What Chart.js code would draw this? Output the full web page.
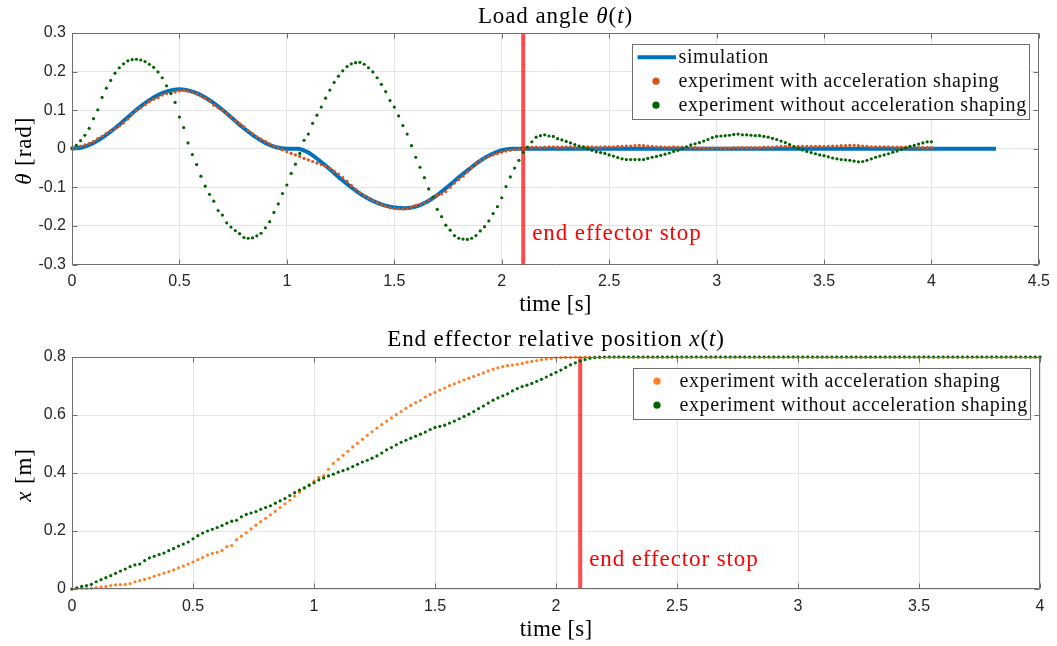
<!DOCTYPE html>
<html>
<head>
<meta charset="utf-8">
<script src="https://cdn.jsdelivr.net/npm/chart.js@4.4.1/dist/chart.umd.min.js"></script>
<style>
html,body{margin:0;padding:0;background:#fff;}
#wrap{position:relative;width:1057px;height:646px;overflow:hidden;}
canvas{position:absolute;left:0;}
#c1{top:0;}
#c2{top:323px;}
</style>
</head>
<body>
<div id="wrap">
<canvas id="c1" width="1057" height="323"></canvas>
<canvas id="c2" width="1057" height="323"></canvas>
</div>
<script>
// ---------------- DATA ----------------
const time = [
0,0.02,0.04,0.06,0.08,0.1,0.12,0.14,0.16,0.18,
0.2,0.22,0.24,0.26,0.28,0.3,0.32,0.34,0.36,0.38,
0.4,0.42,0.44,0.46,0.48,0.5,0.52,0.54,0.56,0.58,
0.6,0.62,0.64,0.66,0.68,0.7,0.72,0.74,0.76,0.78,
0.8,0.82,0.84,0.86,0.88,0.9,0.92,0.94,0.96,0.98,
1,1.02,1.04,1.06,1.08,1.1,1.12,1.14,1.16,1.18,
1.2,1.22,1.24,1.26,1.28,1.3,1.32,1.34,1.36,1.38,
1.4,1.42,1.44,1.46,1.48,1.5,1.52,1.54,1.56,1.58,
1.6,1.62,1.64,1.66,1.68,1.7,1.72,1.74,1.76,1.78,
1.8,1.82,1.84,1.86,1.88,1.9,1.92,1.94,1.96,1.98,
2,2.02,2.04,2.06,2.08,2.1,2.12,2.14,2.16,2.18,
2.2,2.22,2.24,2.26,2.28,2.3,2.32,2.34,2.36,2.38,
2.4,2.42,2.44,2.46,2.48,2.5,2.52,2.54,2.56,2.58,
2.6,2.62,2.64,2.66,2.68,2.7,2.72,2.74,2.76,2.78,
2.8,2.82,2.84,2.86,2.88,2.9,2.92,2.94,2.96,2.98,
3,3.02,3.04,3.06,3.08,3.1,3.12,3.14,3.16,3.18,
3.2,3.22,3.24,3.26,3.28,3.3,3.32,3.34,3.36,3.38,
3.4,3.42,3.44,3.46,3.48,3.5,3.52,3.54,3.56,3.58,
3.6,3.62,3.64,3.66,3.68,3.7,3.72,3.74,3.76,3.78,
3.8,3.82,3.84,3.86,3.88,3.9,3.92,3.94,3.96,3.98,
4
];

// load angle, experiment with acceleration shaping [rad]
const thetaWith = [
0.003,0.005,0.007,0.010,0.014,0.019,0.026,0.032,0.040,0.047,
0.053,0.059,0.067,0.077,0.089,0.099,0.106,0.114,0.122,0.128,
0.132,0.139,0.143,0.145,0.147,0.150,0.151,0.149,0.146,0.142,
0.137,0.131,0.123,0.113,0.106,0.100,0.091,0.082,0.072,0.065,
0.057,0.047,0.039,0.031,0.025,0.019,0.013,0.007,0.002,-0.003,
-0.008,-0.012,-0.016,-0.020,-0.025,-0.029,-0.033,-0.037,-0.041,-0.045,
-0.051,-0.058,-0.066,-0.075,-0.084,-0.095,-0.105,-0.114,-0.122,-0.128,
-0.134,-0.139,-0.145,-0.149,-0.153,-0.155,-0.156,-0.156,-0.155,-0.151,
-0.147,-0.144,-0.140,-0.133,-0.127,-0.121,-0.117,-0.111,-0.100,-0.089,
-0.080,-0.071,-0.060,-0.049,-0.038,-0.031,-0.025,-0.020,-0.016,-0.012,
-0.009,-0.006,-0.004,-0.002,-0.001,0.000,0.003,0.004,0.004,0.003,
0.004,0.005,0.005,0.004,0.004,0.005,0.005,0.004,0.004,0.005,
0.005,0.005,0.004,0.004,0.005,0.005,0.005,0.006,0.006,0.007,
0.007,0.008,0.009,0.008,0.007,0.006,0.005,0.005,0.004,0.004,
0.005,0.004,0.004,0.003,0.003,0.003,0.002,0.002,0.002,0.002,
0.002,0.002,0.002,0.002,0.003,0.003,0.003,0.003,0.003,0.003,
0.003,0.004,0.004,0.004,0.005,0.006,0.006,0.006,0.006,0.006,
0.006,0.006,0.006,0.006,0.006,0.006,0.006,0.007,0.007,0.008,
0.008,0.009,0.009,0.008,0.007,0.006,0.005,0.005,0.005,0.005,
0.005,0.004,0.004,0.004,0.004,0.004,0.004,0.003,0.003,0.003,
0.003
];

// load angle, experiment without acceleration shaping [rad]
const thetaWithout = [
0.000,0.009,0.021,0.035,0.053,0.078,0.101,0.133,0.157,0.177,
0.196,0.210,0.220,0.228,0.231,0.232,0.230,0.226,0.219,0.211,
0.199,0.184,0.163,0.143,0.120,0.082,0.055,0.015,-0.015,-0.041,
-0.071,-0.097,-0.118,-0.136,-0.160,-0.172,-0.192,-0.203,-0.212,-0.220,
-0.230,-0.232,-0.231,-0.226,-0.219,-0.205,-0.189,-0.165,-0.143,-0.116,
-0.094,-0.064,-0.040,-0.012,0.022,0.038,0.066,0.087,0.108,0.131,
0.152,0.172,0.188,0.202,0.213,0.220,0.223,0.224,0.219,0.210,
0.199,0.184,0.167,0.148,0.125,0.108,0.085,0.060,0.038,0.008,
-0.022,-0.048,-0.075,-0.104,-0.125,-0.157,-0.176,-0.198,-0.211,-0.225,
-0.232,-0.234,-0.235,-0.232,-0.225,-0.213,-0.202,-0.187,-0.168,-0.150,
-0.127,-0.098,-0.073,-0.050,-0.030,-0.010,0.004,0.018,0.030,0.034,
0.036,0.033,0.032,0.026,0.023,0.019,0.015,0.011,0.007,0.004,
0.000,-0.004,-0.008,-0.010,-0.012,-0.016,-0.019,-0.023,-0.026,-0.028,
-0.028,-0.028,-0.028,-0.028,-0.025,-0.022,-0.020,-0.017,-0.014,-0.011,
-0.007,-0.004,0.000,0.005,0.010,0.013,0.016,0.020,0.024,0.029,
0.032,0.033,0.034,0.035,0.037,0.038,0.036,0.036,0.035,0.034,
0.034,0.032,0.030,0.027,0.024,0.020,0.016,0.011,0.005,0.001,
-0.003,-0.007,-0.010,-0.013,-0.016,-0.018,-0.021,-0.024,-0.026,-0.028,
-0.029,-0.030,-0.032,-0.034,-0.033,-0.030,-0.026,-0.022,-0.019,-0.016,
-0.013,-0.009,-0.006,-0.002,0.002,0.006,0.009,0.012,0.015,0.018,
0.018
];

// simulated load angle [rad]
const simTime = [
0,0.05,0.1,0.15,0.2,0.25,0.3,0.35,0.4,0.45,0.5,0.55,0.6,0.65,0.7,0.75,0.8,0.85,0.9,0.95,1,
1.05,1.1,1.15,1.2,1.25,1.3,1.35,1.4,1.45,1.5,1.55,1.6,1.65,1.7,1.75,1.8,1.85,1.9,1.95,2,2.05,
4.3
];
const simTheta = [
0,0.004,0.015,0.032,0.053,0.077,0.101,0.122,0.139,0.150,0.154,0.150,0.139,0.122,0.101,0.077,0.053,0.032,0.015,0.004,0,
0,-0.010,-0.030,-0.053,-0.078,-0.100,-0.120,-0.135,-0.146,-0.152,-0.154,-0.150,-0.138,-0.120,-0.098,-0.074,-0.052,-0.031,-0.015,-0.004,0,
0
];

// end effector position, experiment with acceleration shaping [m]
const posWith = [
0.000,0.001,0.002,0.002,0.003,0.005,0.007,0.009,0.012,0.014,
0.015,0.016,0.019,0.025,0.029,0.033,0.038,0.044,0.049,0.055,
0.060,0.066,0.073,0.079,0.086,0.093,0.101,0.109,0.117,0.123,
0.126,0.133,0.146,0.150,0.170,0.182,0.194,0.207,0.220,0.232,
0.244,0.256,0.268,0.281,0.294,0.306,0.320,0.334,0.347,0.360,
0.372,0.385,0.391,0.413,0.433,0.447,0.461,0.475,0.490,0.503,
0.516,0.530,0.542,0.555,0.567,0.579,0.590,0.601,0.612,0.623,
0.633,0.643,0.650,0.662,0.671,0.678,0.686,0.693,0.701,0.707,
0.714,0.721,0.727,0.733,0.739,0.745,0.752,0.758,0.763,0.767,
0.770,0.772,0.775,0.778,0.782,0.785,0.788,0.791,0.793,0.795,
0.797,0.798,0.799,0.799,0.800,0.800,0.800,0.800,0.800,0.800,
0.800,0.800,0.800,0.800,0.800,0.800,0.800,0.800,0.800,0.800,
0.800,0.800,0.800,0.800,0.800,0.800,0.800,0.800,0.800,0.800,
0.800,0.800,0.800,0.800,0.800,0.800,0.800,0.800,0.800,0.800,
0.800,0.800,0.800,0.800,0.800,0.800,0.800,0.800,0.800,0.800,
0.800,0.800,0.800,0.800,0.800,0.800,0.800,0.800,0.800,0.800,
0.800,0.800,0.800,0.800,0.800,0.800,0.800,0.800,0.800,0.800,
0.800,0.800,0.800,0.800,0.800,0.800,0.800,0.800,0.800,0.800,
0.800,0.800,0.800,0.800,0.800,0.800,0.800,0.800,0.800,0.800,
0.800,0.800,0.800,0.800,0.800,0.800,0.800,0.800,0.800,0.800,
0.800
];

// end effector position, experiment without acceleration shaping [m]
const posWithout = [
0.000,0.004,0.009,0.012,0.016,0.025,0.032,0.039,0.046,0.054,
0.062,0.069,0.077,0.083,0.086,0.098,0.107,0.113,0.119,0.124,
0.132,0.140,0.148,0.155,0.162,0.173,0.184,0.193,0.200,0.206,
0.212,0.219,0.227,0.234,0.237,0.249,0.257,0.262,0.267,0.275,
0.281,0.287,0.296,0.304,0.312,0.322,0.332,0.341,0.349,0.357,
0.366,0.376,0.383,0.390,0.396,0.403,0.408,0.414,0.422,0.430,
0.438,0.444,0.451,0.459,0.469,0.480,0.488,0.497,0.506,0.513,
0.520,0.527,0.534,0.541,0.550,0.557,0.561,0.565,0.572,0.579,
0.587,0.595,0.603,0.612,0.622,0.631,0.641,0.651,0.659,0.666,
0.673,0.683,0.691,0.698,0.703,0.709,0.716,0.723,0.731,0.739,
0.747,0.755,0.764,0.773,0.780,0.786,0.791,0.796,0.798,0.799,
0.800,0.800,0.800,0.800,0.800,0.800,0.800,0.800,0.800,0.800,
0.800,0.800,0.800,0.800,0.800,0.800,0.800,0.800,0.800,0.800,
0.800,0.800,0.800,0.800,0.800,0.800,0.800,0.800,0.800,0.800,
0.800,0.800,0.800,0.800,0.800,0.800,0.800,0.800,0.800,0.800,
0.800,0.800,0.800,0.800,0.800,0.800,0.800,0.800,0.800,0.800,
0.800,0.800,0.800,0.800,0.800,0.800,0.800,0.800,0.800,0.800,
0.800,0.800,0.800,0.800,0.800,0.800,0.800,0.800,0.800,0.800,
0.800,0.800,0.800,0.800,0.800,0.800,0.800,0.800,0.800,0.800,
0.800,0.800,0.800,0.800,0.800,0.800,0.800,0.800,0.800,0.800,
0.800
];

const stopTime = 2.1;

// axis ranges and ticks
const thetaRange = [-0.3, 0.3];
const thetaTicks = [-0.3, -0.2, -0.1, 0, 0.1, 0.2, 0.3];
const thetaTickLabels = ['-0.3', '-0.2', '-0.1', '0', '0.1', '0.2', '0.3'];
const timeRangeA = [0, 4.5];
const timeTicksA = [0, 0.5, 1, 1.5, 2, 2.5, 3, 3.5, 4, 4.5];
const timeTickLabelsA = ['0', '0.5', '1', '1.5', '2', '2.5', '3', '3.5', '4', '4.5'];
const posRange = [0, 0.8];
const posTicks = [0, 0.2, 0.4, 0.6, 0.8];
const posTickLabels = ['0', '0.2', '0.4', '0.6', '0.8'];
const timeRangeB = [0, 4];
const timeTicksB = [0, 0.5, 1, 1.5, 2, 2.5, 3, 3.5, 4];
const timeTickLabelsB = ['0', '0.5', '1', '1.5', '2', '2.5', '3', '3.5', '4'];

// texts
const titleA = [['Load angle ', 0], ['θ', 1], ['(', 0], ['t', 1], [')', 0]];
const titleB = [['End effector relative position ', 0], ['x', 1], ['(', 0], ['t', 1], [')', 0]];
const yTitleA = [['θ', 1], [' [rad]', 0]];
const yTitleB = [['x', 1], [' [m]', 0]];
const xTitle = [['time [s]', 0]];
const stopLabel = 'end effector stop';
const labelSim = 'simulation';
const labelWith = 'experiment with acceleration shaping';
const labelWithout = 'experiment without acceleration shaping';

// ---------------- STYLE ----------------
const SERIF = '"Liberation Serif", "Times New Roman", serif';
const SANS = '"Liberation Sans", Arial, Helvetica, sans-serif';
const C_SIM = '#0072BD';
const C_WITH_A = '#D95319';
const C_WITH_B = '#FF7F27';
const C_WITHOUT = '#006400';
const C_STOP = 'rgba(255,0,0,0.7)';
const C_STOP_TEXT = '#ff0000';
const C_AXIS = '#6f6f6f';
const C_GRID = '#e4e4e4';
const C_TICK = '#262626';

Chart.defaults.font.family = SANS;

function pts(xs, ys) { return xs.map((x, i) => ({ x: x, y: ys[i] })); }

function drawRich(ctx, parts, x, y, size, align, spacing) {
  ctx.save();
  if ('letterSpacing' in ctx) ctx.letterSpacing = spacing + 'px';
  ctx.textAlign = 'left';
  ctx.textBaseline = 'alphabetic';
  const widths = parts.map(p => {
    ctx.font = (p[1] ? 'italic ' : '') + size + 'px ' + SERIF;
    return ctx.measureText(p[0]).width;
  });
  const total = widths.reduce((a, b) => a + b, 0);
  let cx = align === 'center' ? x - total / 2 : (align === 'right' ? x - total : x);
  parts.forEach((p, i) => {
    ctx.font = (p[1] ? 'italic ' : '') + size + 'px ' + SERIF;
    ctx.fillText(p[0], cx, y);
    cx += widths[i];
  });
  ctx.restore();
}

function decoPlugin(cfg) {
  return {
    id: 'deco' + cfg.key,
    afterDatasetsDraw(chart) {
      const ctx = chart.ctx, a = chart.chartArea;
      const xs = chart.scales.x, ys = chart.scales.y;
      ctx.save();
      // stop label
      ctx.fillStyle = C_STOP_TEXT;
      drawRich(ctx, [[stopLabel, 0]], xs.getPixelForValue(stopTime) + 9,
               ys.getPixelForValue(cfg.stopLabelY), 23, 'left', 0.9);
      // frame
      const L = Math.round(a.left) + 0.5, R = Math.round(a.right) - 0.5;
      const T = Math.round(a.top) + 0.5, B = Math.round(a.bottom) - 0.5;
      ctx.strokeStyle = C_AXIS;
      ctx.lineWidth = 1;
      ctx.beginPath();
      ctx.rect(L, T, R - L, B - T);
      xs.ticks.forEach(t => {
        const p = Math.round(xs.getPixelForValue(t.value)) + 0.5;
        ctx.moveTo(p, B); ctx.lineTo(p, B - 5);
        ctx.moveTo(p, T); ctx.lineTo(p, T + 5);
      });
      ys.ticks.forEach(t => {
        const p = Math.round(ys.getPixelForValue(t.value)) + 0.5;
        ctx.moveTo(L, p); ctx.lineTo(L + 5, p);
        ctx.moveTo(R, p); ctx.lineTo(R - 5, p);
      });
      ctx.stroke();
      ctx.restore();
    },
    afterDraw(chart) {
      const ctx = chart.ctx, a = chart.chartArea;
      const cxm = (a.left + a.right) / 2;
      ctx.save();
      ctx.fillStyle = '#000';
      drawRich(ctx, cfg.title, cxm, cfg.titleBaseline, 23, 'center', 0.9);
      drawRich(ctx, xTitle, cxm, a.bottom + cfg.xTitleOffset, 23, 'center', 0.2);
      ctx.save();
      ctx.translate(30.5, (a.top + a.bottom) / 2 + 2);
      ctx.rotate(-Math.PI / 2);
      drawRich(ctx, cfg.yTitle, 0, 0, 23, 'center', 0.9);
      ctx.restore();
      // legend
      const n = cfg.legend.length;
      const bw = 397, bh = 27 + 24 * (n - 1);
      const bx = Math.round(a.right - 407) + 0.5, by = Math.round(a.top + 10.5) + 0.5;
      ctx.fillStyle = '#fff';
      ctx.fillRect(bx, by, bw, bh);
      ctx.strokeStyle = C_AXIS;
      ctx.lineWidth = 1;
      ctx.strokeRect(bx, by, bw, bh);
      cfg.legend.forEach((e, i) => {
        const ry = by + 12.7 + 24 * i;
        if (e.kind === 'line') {
          ctx.strokeStyle = e.color;
          ctx.lineWidth = 4;
          ctx.beginPath();
          ctx.moveTo(bx + 5, ry); ctx.lineTo(bx + 43.5, ry);
          ctx.stroke();
        } else {
          ctx.fillStyle = e.color;
          ctx.beginPath();
          ctx.arc(bx + 23.5, ry, 3.6, 0, Math.PI * 2);
          ctx.fill();
        }
        ctx.fillStyle = '#111';
        drawRich(ctx, [[e.label, 0]], bx + 46, ry + 5.5, 20, 'left', 0.6);
      });
      ctx.restore();
    }
  };
}

function axisCfg(range, ticks, labels, fixed, isX, pad) {
  const c = {
    type: 'linear',
    min: range[0], max: range[1],
    afterBuildTicks: s => { s.ticks = ticks.map(v => ({ value: v })); },
    grid: { color: C_GRID, lineWidth: 1, drawTicks: false },
    border: { display: false },
    ticks: {
      padding: pad, color: C_TICK, font: { family: SANS, size: 16 },
      maxRotation: 0, autoSkip: false,
      callback: (v, i) => labels[i]
    }
  };
  if (isX) c.afterFit = s => { s.height = fixed; };
  else c.afterFit = s => { s.width = fixed; };
  return c;
}

function dotSet(label, data, color, order) {
  return { label: label, data: data, showLine: false, pointRadius: 1.6, pointHoverRadius: 1.6,
           pointBorderWidth: 0, backgroundColor: color, borderColor: color, order: order, clip: 4 };
}

// ---------------- CHART A: load angle ----------------
new Chart(document.getElementById('c1'), {
  type: 'scatter',
  data: {
    datasets: [
      dotSet(labelWithout, pts(time, thetaWithout), C_WITHOUT, 0),
      dotSet(labelWith, pts(time, thetaWith), C_WITH_A, 1),
      { label: 'stop', data: pts([stopTime, stopTime], thetaRange), showLine: true, pointRadius: 0,
        borderColor: C_STOP, borderWidth: 4, order: 2 },
      { label: labelSim, data: pts(simTime, simTheta), showLine: true, pointRadius: 0,
        borderColor: C_SIM, borderWidth: 4, cubicInterpolationMode: 'monotone', order: 3 }
    ]
  },
  options: {
    responsive: false, animation: false, devicePixelRatio: 1,
    layout: { padding: { top: 33, right: 17, left: 0, bottom: 0 } },
    plugins: { legend: { display: false }, title: { display: false }, tooltip: { enabled: false } },
    scales: {
      x: axisCfg(timeRangeA, timeTicksA, timeTickLabelsA, 58.5, true, 7),
      y: axisCfg(thetaRange, thetaTicks, thetaTickLabels, 72, false, 6)
    }
  },
  plugins: [decoPlugin({
    key: 'A', title: titleA, yTitle: yTitleA, titleBaseline: 23, xTitleOffset: 46.5,
    stopLabelY: -0.236,
    legend: [
      { kind: 'line', color: C_SIM, label: labelSim },
      { kind: 'dot', color: C_WITH_A, label: labelWith },
      { kind: 'dot', color: C_WITHOUT, label: labelWithout }
    ]
  })]
});

// ---------------- CHART B: end effector position ----------------
new Chart(document.getElementById('c2'), {
  type: 'scatter',
  data: {
    datasets: [
      dotSet(labelWithout, pts(time, posWithout), C_WITHOUT, 0),
      dotSet(labelWith, pts(time, posWith), C_WITH_B, 1),
      { label: 'stop', data: pts([stopTime, stopTime], posRange), showLine: true, pointRadius: 0,
        borderColor: C_STOP, borderWidth: 4, order: 2 }
    ]
  },
  options: {
    responsive: false, animation: false, devicePixelRatio: 1,
    layout: { padding: { top: 34, right: 17, left: 0, bottom: 0 } },
    plugins: { legend: { display: false }, title: { display: false }, tooltip: { enabled: false } },
    scales: {
      x: axisCfg(timeRangeB, timeTicksB, timeTickLabelsB, 57, true, 8),
      y: axisCfg(posRange, posTicks, posTickLabels, 72, false, 6)
    }
  },
  plugins: [decoPlugin({
    key: 'B', title: titleB, yTitle: yTitleB, titleBaseline: 23, xTitleOffset: 47,
    stopLabelY: 0.079,
    legend: [
      { kind: 'dot', color: C_WITH_B, label: labelWith },
      { kind: 'dot', color: C_WITHOUT, label: labelWithout }
    ]
  })]
});
</script>
</body>
</html>
